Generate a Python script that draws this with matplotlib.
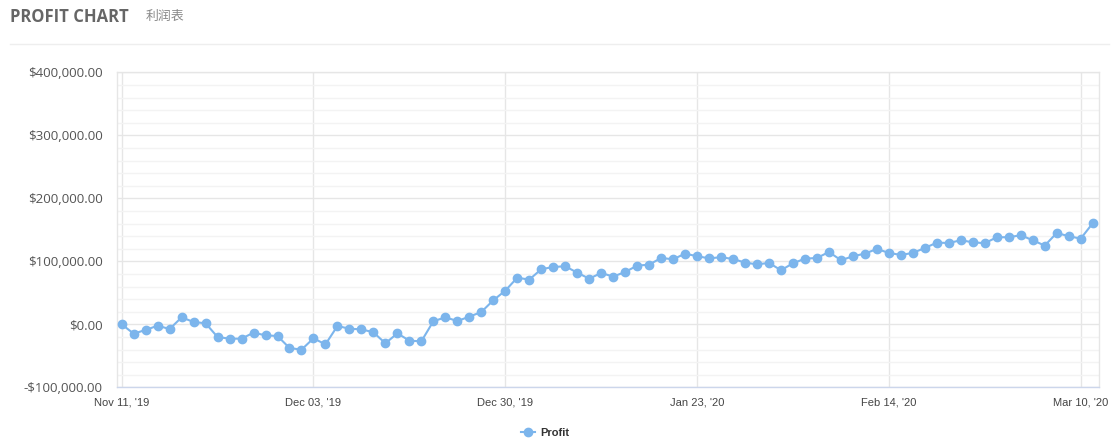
import matplotlib
matplotlib.use("Agg")
import matplotlib.pyplot as plt
from matplotlib.ticker import FuncFormatter, MultipleLocator, FixedLocator
from matplotlib.lines import Line2D

profit = [0, -14800, -9000, -2200, -7500, 11000, 3700, 1600, -20200, -22800,
          -22800, -13300, -17500, -18600, -37600, -40300, -22300, -31800, -2700, -7000,
          -8000, -12700, -30200, -14300, -26000, -27000, 4800, 11100, 5200, 12100,
          19500, 38100, 53400, 74000, 70900, 87400, 91000, 92100, 82000, 72400,
          81500, 75700, 83100, 93100, 94700, 105300, 103200, 112200, 108000, 104800,
          106400, 103700, 97900, 95200, 97400, 85800, 96900, 104200, 105300, 114800,
          101700, 108000, 112200, 119600, 113300, 110100, 113300, 121200, 129600, 129100,
          133400, 130200, 128700, 138200, 138200, 141400, 133400, 124900, 145000, 139800,
          136000, 160400]
tick_index = [0, 16, 32, 48, 64, 80]
tick_labels = ["Nov 11, '19", "Dec 03, '19", "Dec 30, '19", "Jan 23, '20", "Feb 14, '20", "Mar 10, '20"]
series_name = "Profit"
title = "PROFIT CHART"
subtitle = "利润表"

color = "#7cb5ec"
W, H = 1119, 447
fig = plt.figure(figsize=(W / 100, H / 100), dpi=100)
l, r, t, b = 116.5, 1099.3, 72.3, 387.3
ax = fig.add_axes([l / W, 1 - b / H, (r - l) / W, (b - t) / H])

x = list(range(len(profit)))
ax.plot(x, profit, color=color, lw=1.5, marker="o", ms=6, mec=color, mfc=color, zorder=3,
        solid_joinstyle="round")
ax.set_xlim(-0.43, 81.55)
ax.set_ylim(-100000, 400000)

ax.yaxis.set_major_locator(MultipleLocator(100000))
ax.yaxis.set_minor_locator(MultipleLocator(20000))
ax.xaxis.set_major_locator(FixedLocator(tick_index))
ax.set_xticklabels(tick_labels)

def fmt(v, pos):
    if v < 0:
        return "-${:,.2f}".format(-v)
    return "${:,.2f}".format(v)
ax.yaxis.set_major_formatter(FuncFormatter(fmt))

ax.grid(which="major", axis="both", color="#e6e6e6", lw=1)
ax.grid(which="minor", axis="y", color="#f3f3f3", lw=1)
ax.set_axisbelow(True)

for s in ["left", "top", "right"]:
    ax.spines[s].set_color("#e6e6e6")
    ax.spines[s].set_linewidth(1)
ax.spines["bottom"].set_color("#ccd6eb")
ax.spines["bottom"].set_linewidth(1)

ax.tick_params(axis="y", which="both", length=0, pad=10, labelsize=9.6, labelcolor="#555555")
for lab in ax.get_yticklabels():
    lab.set_fontfamily("Open Sans")
ax.tick_params(axis="x", which="both", length=0, pad=7.5, labelsize=8, labelcolor="#444444")
for lab in ax.get_xticklabels():
    lab.set_fontfamily("Liberation Sans")

fig.text(10 / W, 1 - 17 / H, title, fontsize=12, fontweight="bold", color="#666666",
         family="Open Sans", va="center", ha="left")
fig.text(146 / W, 1 - 16 / H, subtitle, fontsize=9.3, color="#888888",
         family=["Noto Sans CJK SC", "DejaVu Sans"], va="center", ha="left")
fig.add_artist(Line2D([10 / W, 1109 / W], [1 - 44.3 / H, 1 - 44.3 / H], color="#eeeeee", lw=1,
                      transform=fig.transFigure))

handle = Line2D([], [], color=color, lw=1.5, marker="o", ms=6)
leg = fig.legend([handle], [series_name], loc="center", bbox_to_anchor=(545 / W, 1 - 433 / H),
                 frameon=False, handlelength=1.3, handletextpad=0.45,
                 prop={"family": "Liberation Sans", "weight": "bold", "size": 8})
for txt in leg.get_texts():
    txt.set_color("#333333")

fig.savefig("out.png", dpi=100)
